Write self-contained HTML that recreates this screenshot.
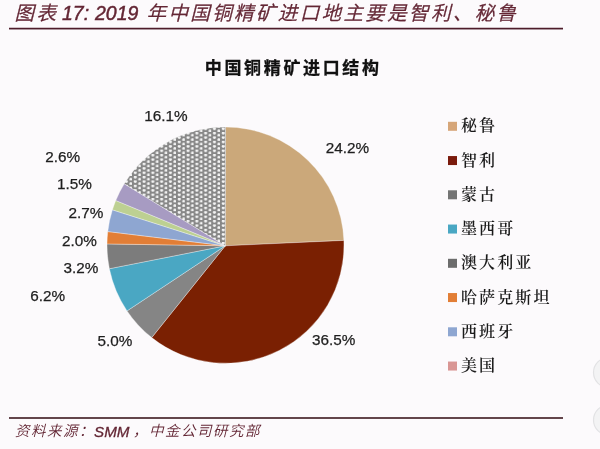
<!DOCTYPE html>
<html><head><meta charset="utf-8">
<style>
html,body{margin:0;padding:0;background:#fcfafc;}
body{width:600px;height:449px;overflow:hidden;position:relative;}
svg{position:absolute;left:0;top:0;filter:blur(0.35px);}
.pct{font-family:"Liberation Sans",sans-serif;font-size:15.3px;fill:#1e1e1e;stroke:#1e1e1e;stroke-width:0.25px;text-anchor:middle;}
.lg{font-family:"Liberation Serif","Noto Serif CJK SC",serif;font-size:16px;letter-spacing:2.1px;fill:#1a1a1a;font-weight:600;}
.tl{font-family:"Liberation Sans",sans-serif;font-style:italic;font-size:19.5px;fill:#632634;stroke:#632634;stroke-width:0.45px;}
.tc{font-family:"Liberation Sans","Noto Sans CJK SC",sans-serif;font-style:italic;font-weight:350;font-size:19.5px;letter-spacing:2.38px;fill:#632634;stroke:#632634;stroke-width:0.3px;}
.sl{font-family:"Liberation Sans",sans-serif;font-style:italic;font-size:15.2px;fill:#632634;stroke:#632634;stroke-width:0.3px;}
.sc{font-family:"Liberation Sans","Noto Sans CJK SC",sans-serif;font-style:italic;font-weight:350;font-size:14.5px;letter-spacing:1.5px;fill:#632634;}
.ct{font-family:"Liberation Sans","Noto Sans CJK SC",sans-serif;font-weight:bold;font-size:17px;letter-spacing:2.65px;fill:#111;stroke:#111;stroke-width:0.3px;}
</style></head>
<body>
<svg width="600" height="449" viewBox="0 0 600 449">
<defs>
<pattern id="dots" patternUnits="userSpaceOnUse" width="8.8" height="4.4">
<rect width="8.8" height="4.4" fill="#878787"/>
<circle cx="3.25" cy="1.1" r="1.5" fill="#f4f4f4"/>
<circle cx="7.65" cy="3.3" r="1.5" fill="#f4f4f4"/>
</pattern>
</defs>
<rect width="600" height="449" fill="#fcfafc"/>
<text class="tc" x="14.5" y="19.5">图表</text>
<text class="tl" x="62" y="20.2">17:</text>
<text class="tl" x="95" y="20.2">2019</text>
<text class="tc" x="146.5" y="19.5">年中国铜精矿进口地主要是智利、秘鲁</text>
<rect x="9" y="27.75" width="554" height="1.7" fill="#4d1c2a"/>
<text class="ct" x="204.8" y="74">中国铜精矿进口结构</text>
<g stroke="#ffffff" stroke-width="0.6" stroke-opacity="0.55" stroke-linejoin="round">
<path d="M225.3,245.8 L225.50,127.00 A118.5,118.15 0 0 1 343.90,240.41 Z" fill="#cba87a"/>
<path d="M225.3,245.8 L343.90,240.41 A118.5,118.15 0 0 1 151.73,337.62 Z" fill="#7a2002"/>
<path d="M225.3,245.8 L151.73,337.62 A118.5,118.15 0 0 1 127.03,310.88 Z" fill="#858585"/>
<path d="M225.3,245.8 L127.03,310.88 A118.5,118.15 0 0 1 109.38,268.71 Z" fill="#4aa7c3"/>
<path d="M225.3,245.8 L109.38,268.71 A118.5,118.15 0 0 1 107.01,243.91 Z" fill="#7c7c7c"/>
<path d="M225.3,245.8 L107.01,243.91 A118.5,118.15 0 0 1 107.79,231.57 Z" fill="#e27e36"/>
<path d="M225.3,245.8 L107.79,231.57 A118.5,118.15 0 0 1 112.42,209.82 Z" fill="#8ea6d1"/>
<path d="M225.3,245.8 L112.42,209.82 A118.5,118.15 0 0 1 115.78,200.51 Z" fill="#bdd092"/>
<path d="M225.3,245.8 L115.78,200.51 A118.5,118.15 0 0 1 124.25,183.77 Z" fill="#a79bc2"/>
<path d="M225.3,245.8 L124.25,183.77 A118.5,118.15 0 0 1 225.50,127.00 Z" fill="url(#dots)"/>
</g>
<g class="pct">
<text x="166.00" y="121.45">16.1%</text>
<text x="347.50" y="153.30">24.2%</text>
<text x="62.80" y="162.45">2.6%</text>
<text x="74.50" y="189.00">1.5%</text>
<text x="86.05" y="218.30">2.7%</text>
<text x="79.40" y="245.55">2.0%</text>
<text x="81.00" y="273.20">3.2%</text>
<text x="47.75" y="301.35">6.2%</text>
<text x="115.00" y="345.85">5.0%</text>
<text x="333.70" y="344.70">36.5%</text>
</g>
<g class="lg">
<rect x="448" y="121.80" width="9" height="9" fill="#d6a679"/>
<rect x="448" y="156.05" width="9" height="9" fill="#7a1a0c"/>
<rect x="448" y="190.30" width="9" height="9" fill="#747474"/>
<rect x="448" y="224.55" width="9" height="9" fill="#4aa7c3"/>
<rect x="448" y="258.80" width="9" height="9" fill="#6c6c6c"/>
<rect x="448" y="293.05" width="9" height="9" fill="#e27e36"/>
<rect x="448" y="327.30" width="9" height="9" fill="#8ea6d1"/>
<rect x="448" y="361.55" width="9" height="9" fill="#d99694"/>
<text x="461" y="131.30">秘鲁</text>
<text x="461" y="165.55">智利</text>
<text x="461" y="199.80">蒙古</text>
<text x="461" y="234.05">墨西哥</text>
<text x="461" y="268.30">澳大利亚</text>
<text x="461" y="302.55">哈萨克斯坦</text>
<text x="461" y="336.80">西班牙</text>
<text x="461" y="371.05">美国</text>
</g>
<rect x="9" y="417.2" width="554" height="1.6" fill="#3e1a20"/>
<circle cx="608.5" cy="372.5" r="15" fill="#f3f3f4" stroke="#e2e2e4" stroke-width="1.2"/>
<circle cx="608.5" cy="420" r="15" fill="#f3f3f4" stroke="#e2e2e4" stroke-width="1.2"/>
<text class="sc" x="15" y="436">资料来源：</text>
<text class="sl" x="94" y="437">SMM</text>
<text class="sc" x="133" y="436">，中金公司研究部</text>
</svg>
</body></html>
